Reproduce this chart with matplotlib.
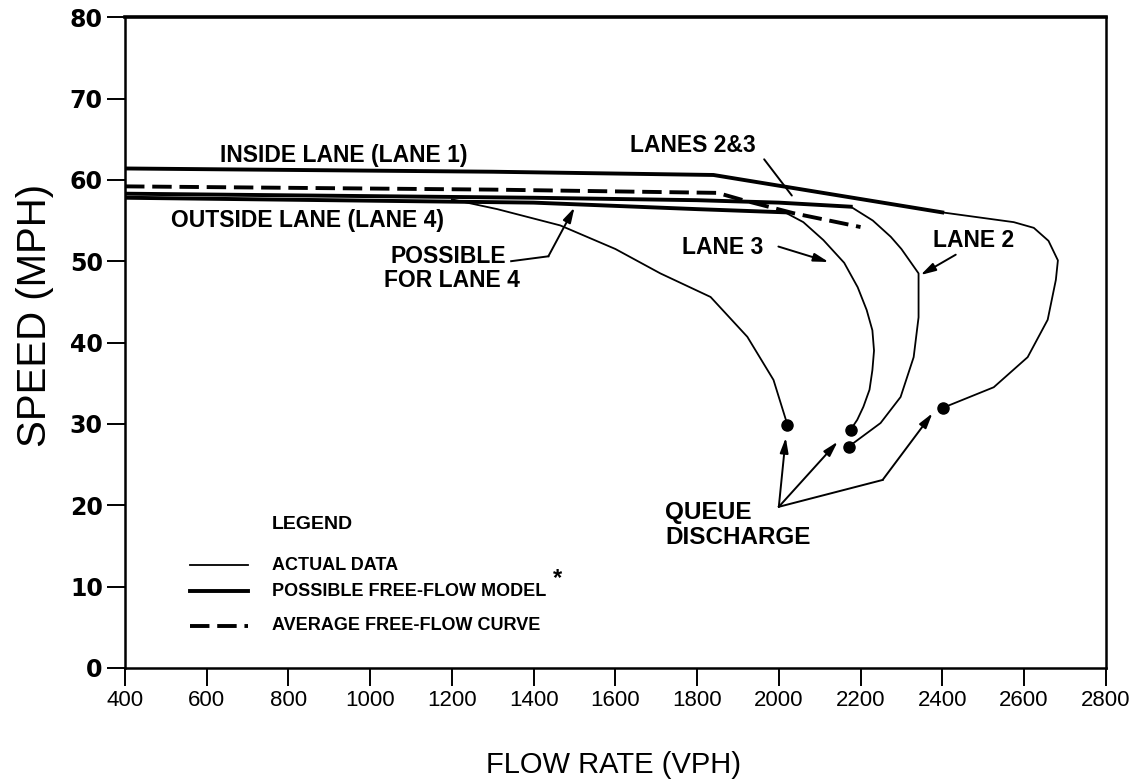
import matplotlib.pyplot as plt

# free-flow model lines (thick)
lane1_model_x = [400, 1300, 1840, 2400]
lane1_model_y = [61.4, 61.0, 60.6, 56.0]
lane23_model_x = [400, 1400, 1800, 2000, 2176]
lane23_model_y = [58.3, 57.8, 57.5, 57.2, 56.7]
lane4_model_x = [400, 1400, 1800, 2020]
lane4_model_y = [57.8, 57.2, 56.4, 56.0]

# average free-flow curve (dashed)
avg_x = [400, 1300, 1850, 1913, 2036, 2200]
avg_y = [59.2, 58.8, 58.4, 57.5, 55.9, 54.2]

# actual data (thin)
lane4_x = [1200, 1311, 1465, 1600, 1710, 1833, 1923, 1987, 2021]
lane4_y = [57.6, 56.4, 54.4, 51.5, 48.5, 45.6, 40.7, 35.4, 29.9]
lane3_x = [2004, 2060, 2109, 2160, 2193, 2215, 2229, 2233, 2229, 2222, 2207, 2192, 2176]
lane3_y = [56.3, 54.8, 52.6, 49.8, 46.8, 44.0, 41.5, 39.0, 36.6, 34.2, 32.1, 30.5, 29.3]
lane2_x = [2176, 2230, 2274, 2300, 2342, 2342, 2330, 2298, 2249, 2171]
lane2_y = [56.7, 55.0, 53.0, 51.5, 48.5, 43.1, 38.2, 33.3, 30.1, 27.2]
lane1_x = [2400, 2575, 2624, 2660, 2683, 2678, 2658, 2609, 2526, 2403]
lane1_y = [56.0, 54.8, 54.1, 52.5, 50.1, 47.7, 42.8, 38.2, 34.5, 32.0]

# queue discharge points
queue_x = [2021, 2176, 2171, 2403]
queue_y = [29.9, 29.3, 27.2, 32.0]

xticks = list(range(400, 2801, 200))
yticks = list(range(0, 81, 10))

fig = plt.figure(figsize=(11.47, 7.82), dpi=100)
ax = fig.add_axes([0.109, 0.146, 0.855, 0.832])

k = 'black'
ax.plot(lane1_model_x, lane1_model_y, color=k, lw=2.8)
ax.plot(lane23_model_x, lane23_model_y, color=k, lw=2.8)
ax.plot(lane4_model_x, lane4_model_y, color=k, lw=2.8)
ax.plot(avg_x, avg_y, color=k, lw=2.8, dashes=(5, 2))
for xs, ys in [(lane4_x, lane4_y), (lane3_x, lane3_y), (lane2_x, lane2_y), (lane1_x, lane1_y)]:
    ax.plot(xs, ys, color=k, lw=1.3)
ax.plot(queue_x, queue_y, 'o', color=k, ms=8)

fb = dict(family='Liberation Sans', weight='bold')
ap = dict(arrowstyle='-|>,head_length=0.9,head_width=0.25', color=k, lw=1.4, shrinkA=0, shrinkB=0)
fs = 16.5

ax.text(935, 63.0, 'INSIDE LANE (LANE 1)', ha='center', va='center', fontsize=fs, **fb)
ax.text(846, 55.0, 'OUTSIDE LANE (LANE 4)', ha='center', va='center', fontsize=fs, **fb)
ax.text(1789, 64.2, 'LANES 2&3', ha='center', va='center', fontsize=fs, **fb)
ax.annotate('', xy=(2036, 57.8), xytext=(1960, 62.8),
            arrowprops=dict(arrowstyle='-', color=k, lw=1.4))
ax.text(1049, 50.6, 'POSSIBLE', ha='left', va='center', fontsize=fs, **fb)
ax.text(1035, 47.6, 'FOR LANE 4', ha='left', va='center', fontsize=fs, **fb)
ax.plot([1345, 1436], [50.0, 50.6], color=k, lw=1.4)
ax.annotate('', xy=(1500, 56.6), xytext=(1436, 50.6), arrowprops=ap)
ax.text(1862, 51.7, 'LANE 3', ha='center', va='center', fontsize=fs, **fb)
ax.annotate('', xy=(2122, 49.9), xytext=(1999, 51.8), arrowprops=ap)
ax.text(2477, 52.6, 'LANE 2', ha='center', va='center', fontsize=fs, **fb)
ax.annotate('', xy=(2347, 48.3), xytext=(2433, 50.8), arrowprops=ap)

ax.text(1722, 19.1, 'QUEUE', ha='left', va='center', fontsize=17.5, **fb)
ax.text(1722, 16.0, 'DISCHARGE', ha='left', va='center', fontsize=17.5, **fb)
ax.annotate('', xy=(2017, 28.3), xytext=(2000, 19.8), arrowprops=ap)
ax.annotate('', xy=(2144, 27.8), xytext=(2000, 19.8), arrowprops=ap)
ax.plot([2000, 2254], [19.8, 23.1], color=k, lw=1.4)
ax.annotate('', xy=(2376, 31.3), xytext=(2254, 23.1), arrowprops=ap)

# legend drawn by hand like the original
ax.text(760, 17.6, 'LEGEND', ha='left', va='center', fontsize=14, **fb)
ax.plot([559, 701], [12.6, 12.6], color=k, lw=1.3)
ax.text(760, 12.6, 'ACTUAL DATA', ha='left', va='center', fontsize=13, **fb)
ax.plot([559, 701], [9.4, 9.4], color=k, lw=2.8)
ax.text(760, 9.4, 'POSSIBLE FREE-FLOW MODEL', ha='left', va='center', fontsize=13, **fb)
ax.text(1448, 11.0, '*', ha='left', va='center', fontsize=17, **fb)
ax.plot([559, 701], [5.2, 5.2], color=k, lw=2.8, dashes=(5, 2))
ax.text(760, 5.2, 'AVERAGE FREE-FLOW CURVE', ha='left', va='center', fontsize=13, **fb)

ax.set_xlim(400, 2800)
ax.set_ylim(0, 80)
ax.set_xticks(xticks)
ax.set_yticks(yticks)
ax.tick_params(axis='both', direction='out', length=13, width=1.4, color=k)
ax.tick_params(axis='x', labelsize=16, pad=3)
ax.tick_params(axis='y', labelsize=17, pad=3)
for lab in ax.get_yticklabels():
    lab.set_fontweight('bold')
    lab.set_family('DejaVu Sans')
for lab in ax.get_xticklabels():
    lab.set_family('Liberation Sans')
for sp in ax.spines.values():
    sp.set_linewidth(1.8)
ax.spines['top'].set_linewidth(2.6)

ax.set_xlabel('FLOW RATE (VPH)', fontsize=21, family='Liberation Sans')
ax.set_ylabel('SPEED (MPH)', fontsize=29, family='Liberation Sans')
ax.xaxis.set_label_coords(0.498, -0.149)
ax.yaxis.set_label_coords(-0.092, 0.542)
ax.xaxis.label.set_va('center')
ax.yaxis.label.set_va('center')

fig.savefig('out.png', dpi=100)
